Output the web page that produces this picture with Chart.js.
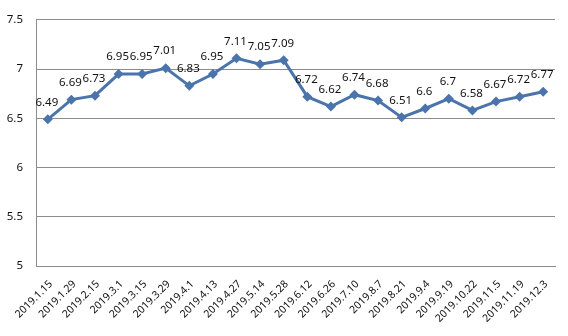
<!DOCTYPE html>
<html>
<head>
<meta charset="utf-8">
<script src="https://cdn.jsdelivr.net/npm/chart.js@4"></script>
<style>
  html, body { margin: 0; padding: 0; background: #fff; }
  #wrap { width: 568px; height: 336px; }
</style>
</head>
<body>
<div id="wrap"><canvas id="rateChart" width="568" height="336"></canvas></div>
<script>
const dates = ['2019.1.15', '2019.1.29', '2019.2.15', '2019.3.1', '2019.3.15', '2019.3.29',
    '2019.4.1', '2019.4.13', '2019.4.27', '2019.5.14', '2019.5.28', '2019.6.12', '2019.6.26',
    '2019.7.10', '2019.8.7', '2019.8.21', '2019.9.4', '2019.9.19', '2019.10.22', '2019.11.5',
    '2019.11.19', '2019.12.3'];
const rates = [6.49, 6.69, 6.73, 6.95, 6.95, 7.01, 6.83, 6.95, 7.11, 7.05, 7.09, 6.72, 6.62,
    6.74, 6.68, 6.51, 6.6, 6.7, 6.58, 6.67, 6.72, 6.77];
const yTicks = [5, 5.5, 6, 6.5, 7, 7.5];

const lineBlue = '#4a74ab';
const gridGray = '#8c8c8c';

// value labels above each point
const pointLabels = {
    id: 'pointLabels',
    afterDatasetsDraw(chart) {
        const ctx = chart.ctx;
        const meta = chart.getDatasetMeta(0);
        ctx.save();
        ctx.font = '11.5px "Noto Sans"';
        ctx.fillStyle = '#111';
        ctx.textAlign = 'center';
        ctx.textBaseline = 'middle';
        meta.data.forEach((pt, i) => {
            ctx.fillText(String(rates[i]), pt.x - 1, pt.y - 17);
        });
        ctx.restore();
    }
};

const ctx = document.getElementById('rateChart').getContext('2d');
new Chart(ctx, {
    type: 'line',
    data: {
        labels: dates,
        datasets: [{
            data: rates,
            borderColor: lineBlue,
            backgroundColor: lineBlue,
            borderWidth: 3,
            pointStyle: 'rectRot',
            pointRadius: 5,
            pointBorderWidth: 0,
            tension: 0
        }]
    },
    options: {
        responsive: false,
        animation: false,
        layout: { padding: { left: 0, top: 17, right: 13, bottom: 0 } },
        plugins: {
            legend: { display: false },
            tooltip: { enabled: false }
        },
        scales: {
            x: {
                offset: true,
                grid: { display: false, drawTicks: false },
                border: { display: true, color: gridGray, width: 1 },
                ticks: {
                    autoSkip: false,
                    maxRotation: 45,
                    minRotation: 45,
                    padding: 12,
                    labelOffset: 3,
                    color: '#111',
                    font: { family: 'Noto Sans', size: 10.5 }
                },
                afterFit(scale) { scale.height = 70; }
            },
            y: {
                min: 5,
                max: 7.5,
                afterBuildTicks(scale) { scale.ticks = yTicks.map(v => ({ value: v })); },
                grid: { color: gridGray, drawTicks: false },
                border: { display: true, color: gridGray, width: 1 },
                ticks: {
                    padding: 13,
                    color: '#111',
                    font: { family: 'Noto Sans', size: 11.5 },
                    callback: v => String(v)
                },
                afterFit(scale) { scale.width = 36; }
            }
        }
    },
    plugins: [pointLabels]
});
</script>
</body>
</html>
